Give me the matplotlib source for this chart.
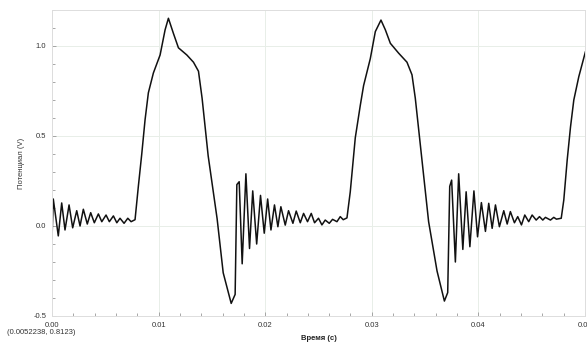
import matplotlib
matplotlib.use("Agg")
import matplotlib.pyplot as plt
from matplotlib.ticker import MultipleLocator, FormatStrFormatter

plt.rcParams["font.family"] = ["Liberation Sans", "DejaVu Sans"]

time_s = [
    0.0000, 0.00012, 0.00059, 0.00091, 0.00122, 0.00160, 0.00194, 0.00232,
    0.00263, 0.00294, 0.00331, 0.00363, 0.00397, 0.00435, 0.00467, 0.00507,
    0.00538, 0.00576, 0.00608, 0.00638, 0.00676, 0.00711, 0.00742, 0.00779,
    # pulse 1
    0.00810, 0.00842, 0.00873, 0.00904, 0.00951, 0.01014, 0.01061, 0.01092,
    0.01139, 0.01186, 0.01265, 0.01327, 0.01374, 0.01408, 0.01465, 0.01549,
    0.01606, 0.01681, 0.01718, 0.01734,
    # ringing 1
    0.01756, 0.01784, 0.01819, 0.01853, 0.01883, 0.01920, 0.01956, 0.01991,
    0.02023, 0.02054, 0.02087, 0.02119, 0.02147, 0.02188, 0.02219, 0.02260,
    0.02291, 0.02329, 0.02360, 0.02397, 0.02432, 0.02463, 0.02500, 0.02532,
    0.02563, 0.02601, 0.02632, 0.02673, 0.02704, 0.02732, 0.02767,
    # pulse 2
    0.02798, 0.02845, 0.02892, 0.02923, 0.02986, 0.03033, 0.03086, 0.03127,
    0.03174, 0.03252, 0.03330, 0.03377, 0.03408, 0.03455, 0.03533, 0.03612,
    0.03681, 0.03712, 0.03731,
    # ringing 2
    0.03749, 0.03784, 0.03815, 0.03854, 0.03885, 0.03920, 0.03958, 0.03992,
    0.04028, 0.04066, 0.04097, 0.04129, 0.04160, 0.04197, 0.04238, 0.04270,
    0.04300, 0.04338, 0.04369, 0.04404, 0.04435, 0.04472, 0.04504, 0.04542,
    0.04573, 0.04604, 0.04629, 0.04676, 0.04707, 0.04732, 0.04777,
    # pulse 3 (cut at right edge)
    0.04801, 0.04833, 0.04864, 0.04895, 0.04942, 0.05005,
]
potential_v = [
    -0.07, 0.15, -0.055, 0.128, -0.022, 0.117, -0.01, 0.085,
    0.0, 0.093, 0.011, 0.074, 0.018, 0.067, 0.024, 0.061,
    0.024, 0.056, 0.018, 0.043, 0.015, 0.043, 0.024, 0.035,
    0.22, 0.40, 0.59, 0.74, 0.85, 0.95, 1.09, 1.154,
    1.07, 0.99, 0.95, 0.91, 0.86, 0.71, 0.39, 0.04,
    -0.26, -0.43, -0.38, 0.23,
    0.246, -0.21, 0.29, -0.125, 0.195, -0.10, 0.17, -0.04,
    0.15, -0.022, 0.117, -0.004, 0.107, 0.005, 0.085, 0.015,
    0.083, 0.018, 0.07, 0.024, 0.07, 0.018, 0.043, 0.006,
    0.033, 0.015, 0.037, 0.024, 0.052, 0.035, 0.045,
    0.19, 0.49, 0.67, 0.78, 0.93, 1.08, 1.144, 1.09,
    1.015, 0.96, 0.91, 0.84, 0.71, 0.45, 0.024, -0.25,
    -0.417, -0.37, 0.22,
    0.255, -0.20, 0.29, -0.13, 0.19, -0.115, 0.195, -0.06,
    0.13, -0.03, 0.126, -0.013, 0.117, -0.004, 0.085, 0.011,
    0.08, 0.018, 0.052, 0.006, 0.061, 0.024, 0.061, 0.033,
    0.052, 0.033, 0.048, 0.033, 0.048, 0.038, 0.043,
    0.144, 0.367, 0.55, 0.70, 0.83, 0.97,
]

cursor_text = "(0.0052238, 0.8123)"

fig = plt.figure(figsize=(5.87, 3.43), dpi=100)
ax = fig.add_axes([52 / 587, 1 - 316 / 343, 533 / 587, 306 / 343])

ax.plot(time_s, potential_v, color="#111111", lw=1.1,
        solid_joinstyle="round", solid_capstyle="round")

ax.set_xlim(0, 0.05)
ax.set_ylim(-0.5, 1.2)
ax.xaxis.set_major_locator(MultipleLocator(0.01))
ax.xaxis.set_minor_locator(MultipleLocator(0.002))
ax.yaxis.set_major_locator(MultipleLocator(0.5))
ax.yaxis.set_minor_locator(MultipleLocator(0.1))
ax.xaxis.set_major_formatter(FormatStrFormatter("%.2f"))
ax.yaxis.set_major_formatter(FormatStrFormatter("%.1f"))

ax.grid(True, which="major", color="#e8eee8", lw=0.7)
ax.set_axisbelow(True)
for s in ax.spines.values():
    s.set_color("#dddddd")
    s.set_linewidth(0.7)
ax.tick_params(which="both", direction="in", colors="#999999", labelcolor="#333333",
               labelsize=5.5, width=0.6)
ax.tick_params(which="major", length=3, pad=4)
ax.tick_params(which="minor", length=2)

ax.set_xlabel("Время (с)", fontsize=5.5, fontweight="bold", color="#222222", labelpad=5)
ax.set_ylabel("Потенциал (V)", fontsize=5.5, color="#333333", labelpad=6)

fig.text(41 / 587, 1 - 333 / 343, cursor_text, fontsize=5.5, color="#333333",
         ha="center", va="center")

fig.savefig("out.png", dpi=100)
